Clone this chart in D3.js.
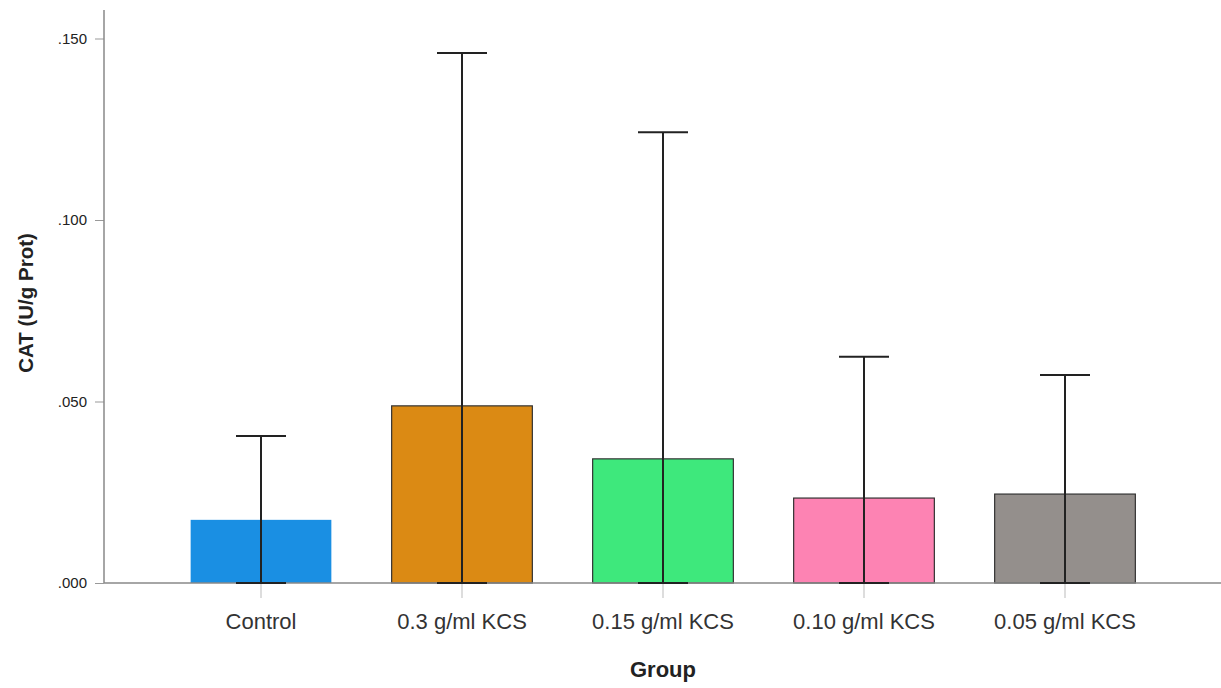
<!DOCTYPE html>
<html>
<head>
<meta charset="utf-8">
<script src="https://cdn.jsdelivr.net/npm/d3@7"></script>
<style>
  body { margin: 0; background: #fff; }
  text { font-family: Arial, "Liberation Sans", sans-serif; }
</style>
</head>
<body>
<svg id="chart"></svg>
<script>
const width = 1221;
const height = 688;

const groups = ['Control', '0.3 g/ml KCS', '0.15 g/ml KCS', '0.10 g/ml KCS', '0.05 g/ml KCS'];
const means = [0.0174, 0.0488, 0.0342, 0.0234, 0.0245];
const errHigh = [0.0405, 0.1460, 0.1242, 0.0623, 0.0573];
const errLow = [0, 0, 0, 0, 0];
const colors = ['#1a8fe3', '#db8a14', '#3ee87c', '#fd83b3', '#948f8c'];
const yTicks = [0, 0.05, 0.10, 0.15];

const data = groups.map((g, i) => ({
    group: g, mean: means[i], hi: errHigh[i], lo: errLow[i], color: colors[i]
}));

const svg = d3.select('#chart')
    .attr('width', width)
    .attr('height', height);

const x = d3.scaleBand()
    .domain(groups)
    .range([160.5, 1165.5])
    .paddingInner(0.3)
    .paddingOuter(0.15);

const y = d3.scaleLinear()
    .domain([0, 0.15])
    .range([583, 38.5]);

// bars
svg.selectAll('rect.bar')
    .data(data)
    .enter()
    .append('rect')
    .attr('class', 'bar')
    .attr('x', d => x(d.group))
    .attr('y', d => y(d.mean))
    .attr('width', x.bandwidth())
    .attr('height', d => y(0) - y(d.mean))
    .attr('fill', d => d.color)
    .attr('stroke', (d, i) => i === 0 ? 'none' : '#333')
    .attr('stroke-width', 1.2);

// y axis
const yAxis = d3.axisLeft(y)
    .tickValues(yTicks)
    .tickSize(9)
    .tickPadding(8)
    .tickFormat(d => d3.format('.3f')(d).replace(/^0/, ''));

const gy = svg.append('g')
    .attr('transform', 'translate(104,0)')
    .call(yAxis);
gy.select('.domain').remove();
gy.append('line')
    .attr('x1', 0).attr('x2', 0)
    .attr('y1', 10).attr('y2', 583)
    .attr('stroke', '#888').attr('stroke-width', 1.5);
gy.selectAll('.tick line').attr('stroke', '#999');
gy.selectAll('.tick text')
    .attr('fill', '#222')
    .style('font-size', '15px');

// x axis
const xAxis = d3.axisBottom(x)
    .tickSize(15)
    .tickPadding(15);

const gx = svg.append('g')
    .attr('transform', 'translate(0,583)')
    .call(xAxis);
gx.select('.domain').remove();
gx.append('line')
    .attr('x1', 104).attr('x2', width)
    .attr('y1', 0).attr('y2', 0)
    .attr('stroke', '#888').attr('stroke-width', 1.5);
gx.selectAll('.tick line').attr('stroke', '#bbb');
gx.selectAll('.tick text')
    .attr('fill', '#333')
    .style('font-size', '22px');

// error bars
const capW = 50;
const eb = svg.selectAll('g.err')
    .data(data)
    .enter()
    .append('g')
    .attr('class', 'err')
    .attr('stroke', '#222')
    .attr('stroke-width', 2);

eb.append('line')
    .attr('x1', d => x(d.group) + x.bandwidth() / 2)
    .attr('x2', d => x(d.group) + x.bandwidth() / 2)
    .attr('y1', d => y(d.lo))
    .attr('y2', d => y(d.hi));
eb.append('line')
    .attr('x1', d => x(d.group) + x.bandwidth() / 2 - capW / 2)
    .attr('x2', d => x(d.group) + x.bandwidth() / 2 + capW / 2)
    .attr('y1', d => y(d.hi))
    .attr('y2', d => y(d.hi));
eb.append('line')
    .attr('x1', d => x(d.group) + x.bandwidth() / 2 - capW / 2)
    .attr('x2', d => x(d.group) + x.bandwidth() / 2 + capW / 2)
    .attr('y1', d => y(d.lo))
    .attr('y2', d => y(d.lo));

// axis titles
svg.append('text')
    .attr('x', 663)
    .attr('y', 677)
    .attr('text-anchor', 'middle')
    .style('font-size', '22px')
    .style('font-weight', 'bold')
    .attr('fill', '#222')
    .text('Group');

svg.append('text')
    .attr('transform', 'translate(33,303) rotate(-90)')
    .attr('text-anchor', 'middle')
    .style('font-size', '20.5px')
    .style('font-weight', 'bold')
    .attr('fill', '#222')
    .text('CAT (U/g Prot)');
</script>
</body>
</html>
